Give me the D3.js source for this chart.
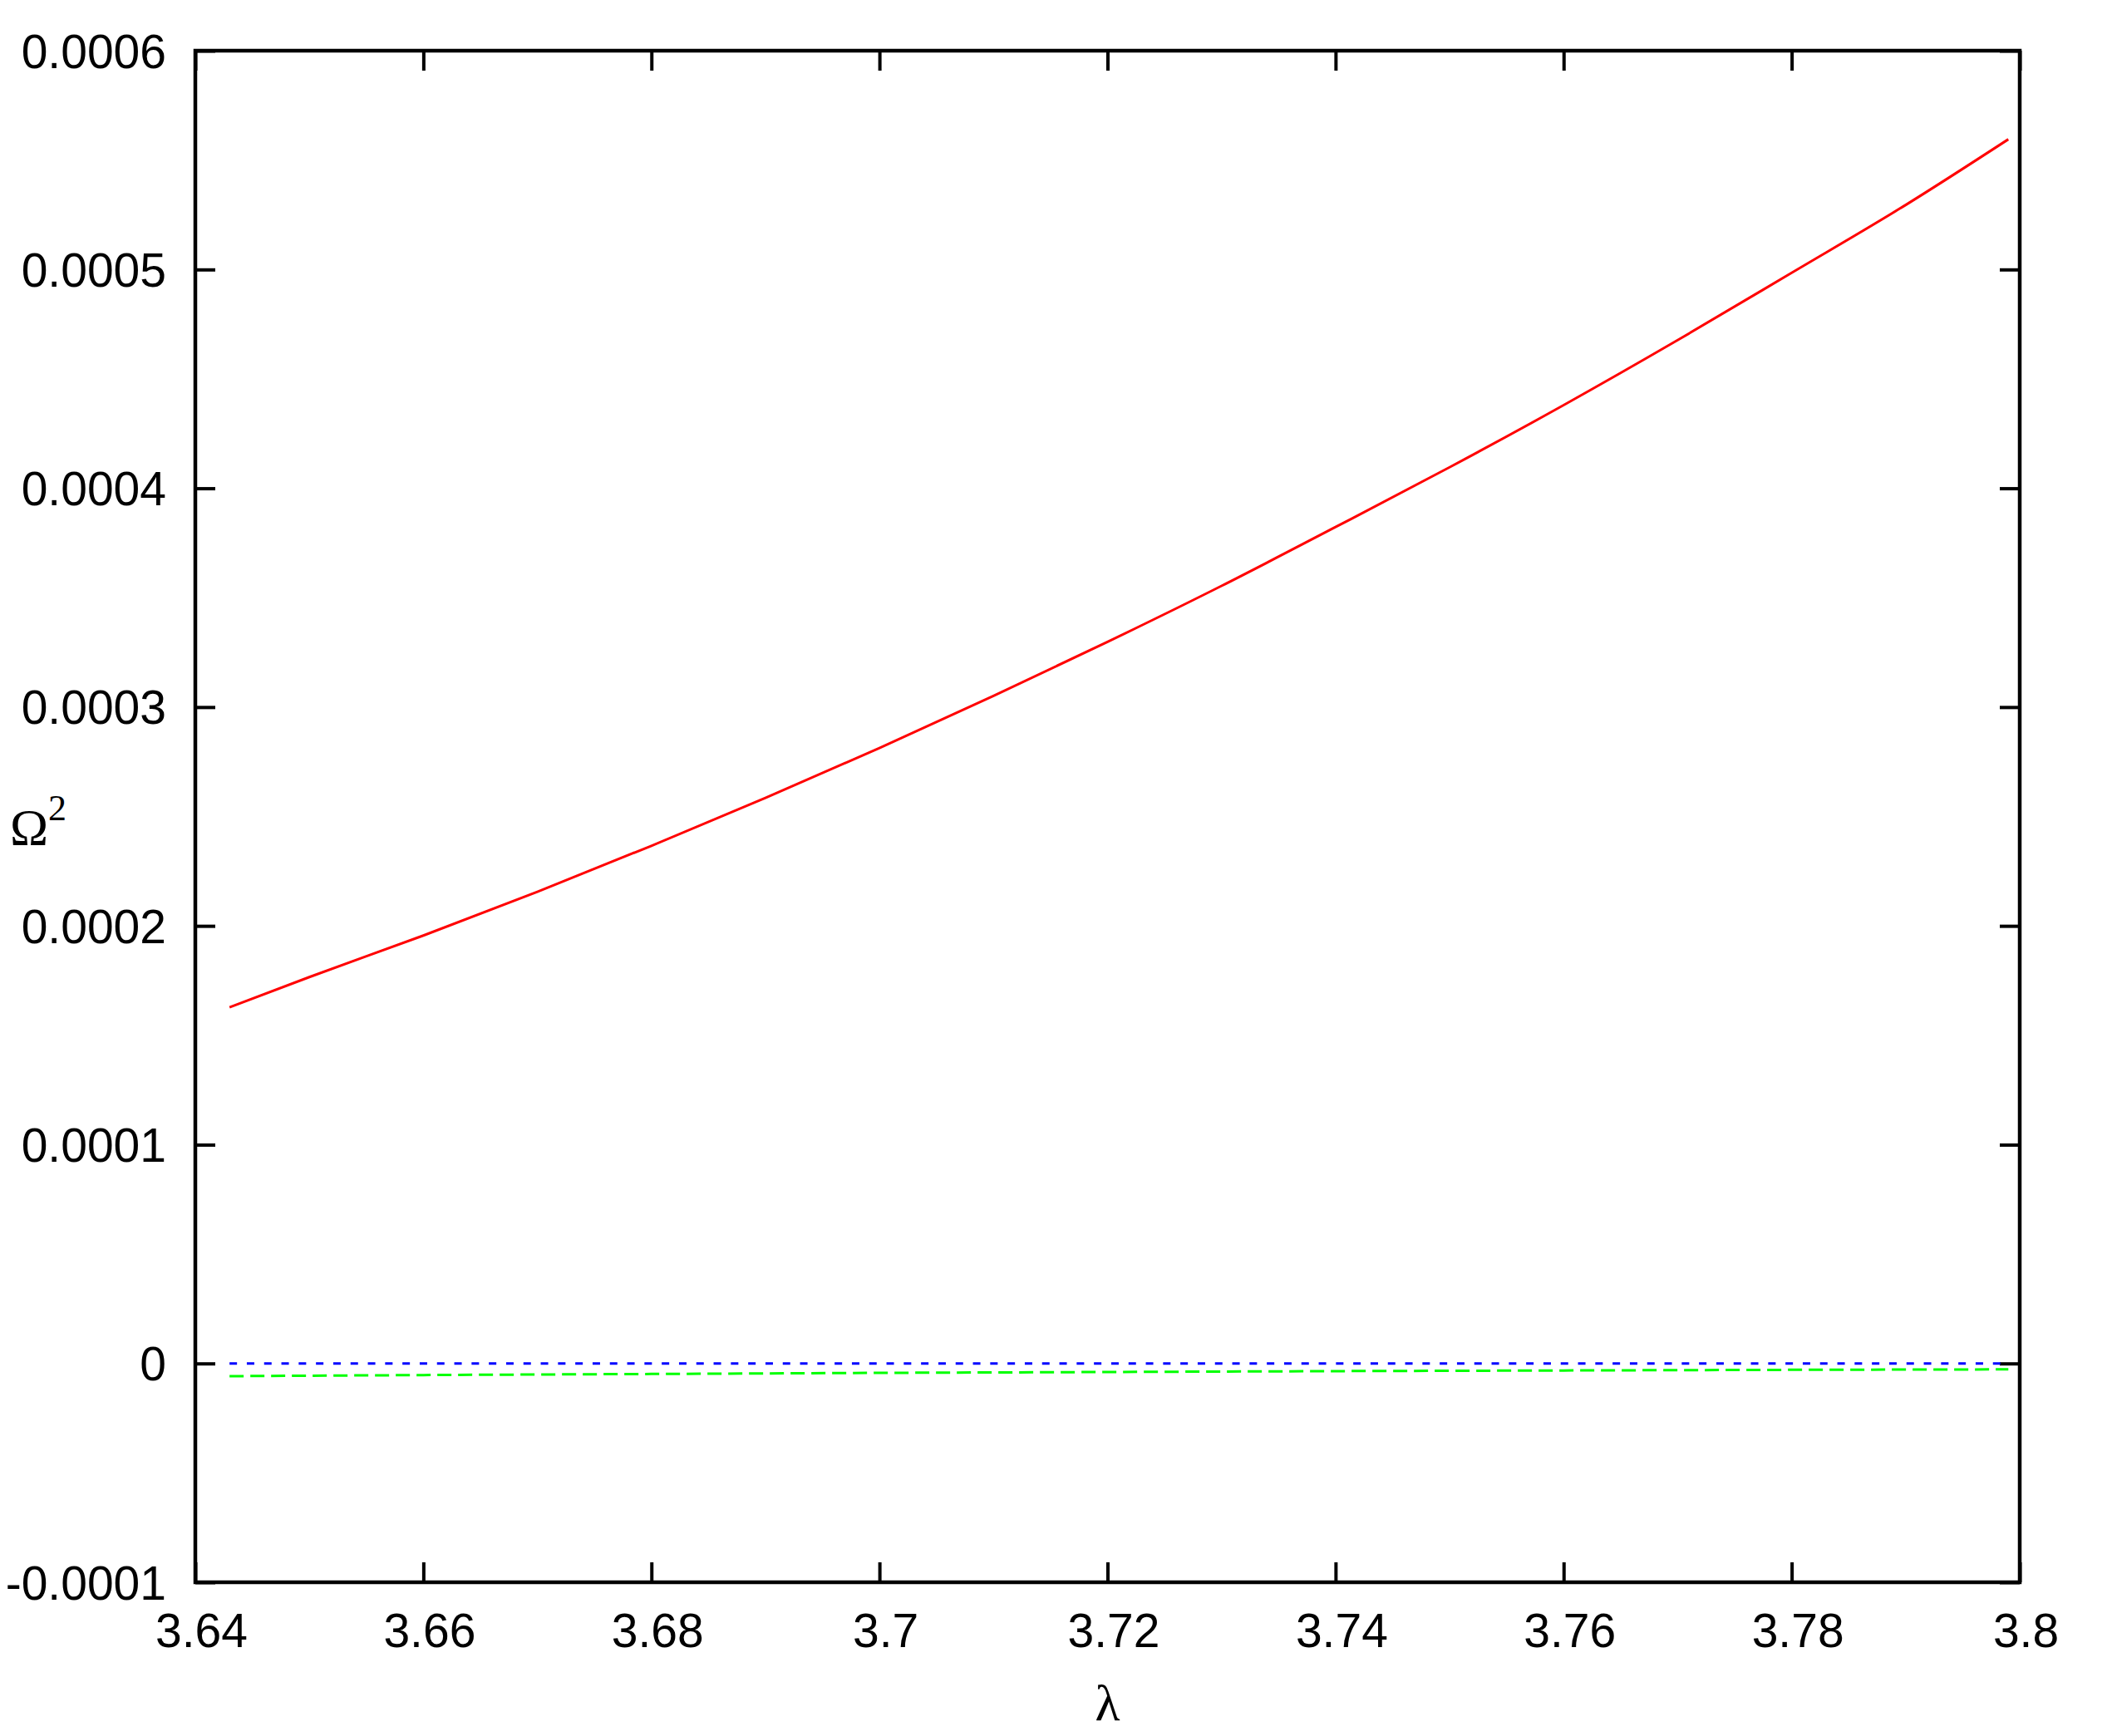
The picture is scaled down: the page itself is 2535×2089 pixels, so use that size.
<!DOCTYPE html>
<html>
<head>
<meta charset="utf-8">
<script src="https://cdn.jsdelivr.net/npm/d3@7/dist/d3.min.js"></script>
<style>
  html, body { margin: 0; padding: 0; background: #fff; }
  svg { display: block; }
</style>
</head>
<body>
<script>
// ---- data ----
const lambdaRed = [3.643, 3.65, 3.66, 3.67, 3.68, 3.69, 3.70, 3.71, 3.72, 3.73, 3.74, 3.75, 3.76, 3.77, 3.78, 3.79, 3.799];
const omegaRed  = [0.0001628, 0.0001766, 0.0001956, 0.0002156, 0.0002366, 0.0002585, 0.0002813, 0.0003051, 0.0003298, 0.0003554, 0.0003823, 0.0004096, 0.0004380, 0.0004677, 0.0004985, 0.0005295, 0.0005595];

const lambdaBlue = [3.643, 3.799];
const omegaBlue  = [0, 0];

const lambdaGreen = [3.643, 3.66, 3.68, 3.70, 3.72, 3.74, 3.76, 3.78, 3.799];
const omegaGreen  = [-0.0000058, -0.0000053, -0.0000048, -0.0000043, -0.0000039, -0.0000035, -0.0000032, -0.0000029, -0.0000027];

const xTicks = [3.64, 3.66, 3.68, 3.70, 3.72, 3.74, 3.76, 3.78, 3.80];
const xTickLabels = ["3.64", "3.66", "3.68", "3.7", "3.72", "3.74", "3.76", "3.78", "3.8"];
const yTicks = [-0.0001, 0, 0.0001, 0.0002, 0.0003, 0.0004, 0.0005, 0.0006];
const yTickLabels = ["-0.0001", "0", "0.0001", "0.0002", "0.0003", "0.0004", "0.0005", "0.0006"];

// ---- layout ----
const W = 2535, H = 2089;
const L = 235, R = 2430, T = 61, B = 1904;

const svg = d3.select("body").append("svg").attr("width", W).attr("height", H);

const x = d3.scaleLinear().domain([3.64, 3.80]).range([L, R]);
const y = d3.scaleLinear().domain([-0.0001, 0.0006]).range([B, T]);

const sans = "'Liberation Sans', Arial, Helvetica, sans-serif";
const serif = "'Liberation Serif', 'Times New Roman', serif";

function styleAxis(g, showLabels) {
  g.select(".domain").remove();
  g.selectAll(".tick line").attr("stroke", "#000").attr("stroke-width", 4);
  if (!showLabels) g.selectAll(".tick text").remove();
}

// left axis
svg.append("g").attr("transform", `translate(${L},0)`)
  .call(d3.axisLeft(y).tickValues(yTicks).tickSizeInner(-24).tickSizeOuter(0).tickPadding(35)
    .tickFormat((d, i) => yTickLabels[i]))
  .call(g => {
    styleAxis(g, true);
    g.selectAll(".tick text").attr("font-family", sans).attr("font-size", 57)
      .attr("fill", "#000").attr("dy", null).attr("y", 20).attr("text-anchor", "end");
  });

// right axis (mirror ticks)
svg.append("g").attr("transform", `translate(${R},0)`)
  .call(d3.axisRight(y).tickValues(yTicks).tickSizeInner(-24).tickSizeOuter(0))
  .call(g => styleAxis(g, false));

// bottom axis
svg.append("g").attr("transform", `translate(0,${B})`)
  .call(d3.axisBottom(x).tickValues(xTicks).tickSizeInner(-24).tickSizeOuter(0)
    .tickFormat((d, i) => xTickLabels[i]))
  .call(g => {
    styleAxis(g, true);
    g.selectAll(".tick text").attr("font-family", sans).attr("font-size", 57)
      .attr("fill", "#000").attr("dy", null).attr("y", 78).attr("x", 7).attr("text-anchor", "middle");
  });

// top axis (mirror ticks)
svg.append("g").attr("transform", `translate(0,${T})`)
  .call(d3.axisTop(x).tickValues(xTicks).tickSizeInner(-24).tickSizeOuter(0))
  .call(g => styleAxis(g, false));

// frame
svg.append("rect").attr("x", L).attr("y", T).attr("width", R - L).attr("height", B - T)
  .attr("fill", "none").attr("stroke", "#000").attr("stroke-width", 4.5);

// series
const line = d3.line().x(d => x(d[0])).y(d => y(d[1])).curve(d3.curveMonotoneX);

svg.append("path").datum(d3.zip(lambdaRed, omegaRed)).attr("d", line)
  .attr("fill", "none").attr("stroke", "#ff0000").attr("stroke-width", 3);

svg.append("path").datum(d3.zip(lambdaBlue, omegaBlue)).attr("d", line)
  .attr("fill", "none").attr("stroke", "#0000ff").attr("stroke-width", 3)
  .attr("stroke-dasharray", "9,11.8");

svg.append("path").datum(d3.zip(lambdaGreen, omegaGreen)).attr("d", line)
  .attr("fill", "none").attr("stroke", "#00ff00").attr("stroke-width", 3)
  .attr("stroke-dasharray", "17,8");

// axis titles
const yl = svg.append("text").attr("x", 12).attr("y", 1016)
  .attr("font-family", serif).attr("font-size", 62).attr("fill", "#000");
yl.append("tspan").text("Ω");
yl.append("tspan").attr("x", 58).attr("y", 987).attr("font-size", 44).text("2");

svg.append("text").attr("x", (L + R) / 2).attr("y", 2070).attr("text-anchor", "middle")
  .attr("font-family", serif).attr("font-size", 62).attr("fill", "#000").text("λ");
</script>
</body>
</html>
